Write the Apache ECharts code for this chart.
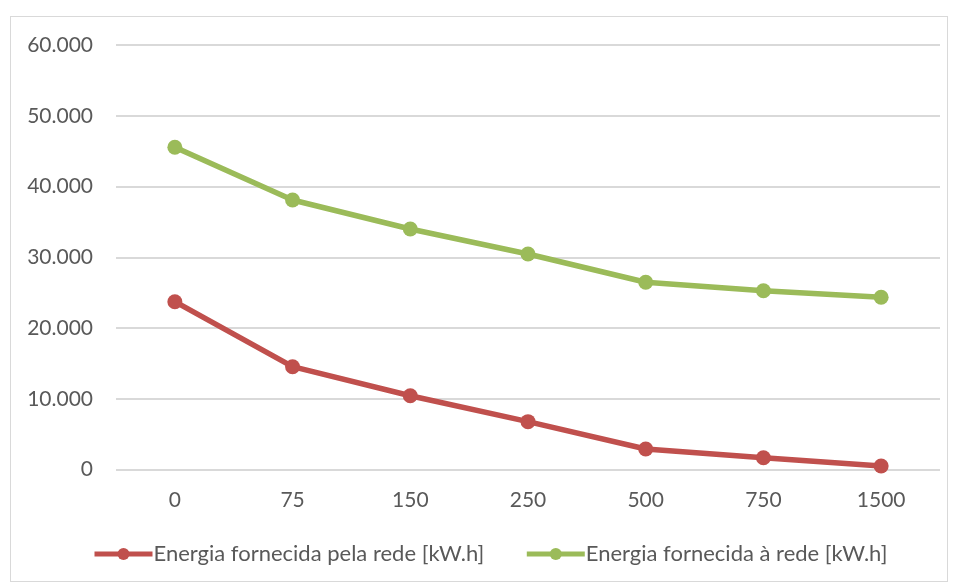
<!DOCTYPE html>
<html>
<head>
<meta charset="utf-8">
<script src="https://cdn.jsdelivr.net/npm/echarts@6/dist/echarts.min.js"></script>
<style>
  html, body { margin: 0; padding: 0; background: #fff; }
  #frame { position: absolute; left: 10px; top: 16px; width: 938px; height: 566px; border: 1px solid #d9d9d9; box-sizing: border-box; }
  #chart { position: absolute; left: 0; top: 0; width: 957px; height: 585px; }
</style>
</head>
<body>
<div id="frame"></div>
<div id="chart"></div>
<script>
// Battery capacity scenarios (x axis)
const categories = ['0', '75', '150', '250', '500', '750', '1500'];
// Energy drawn from the grid [kW.h]
const fromGrid = [23720, 14530, 10430, 6760, 2900, 1670, 500];
// Energy supplied to the grid [kW.h]
const toGrid = [45540, 38090, 33990, 30460, 26460, 25270, 24340];
const seriesNames = ['Energia fornecida pela rede [kW.h]', 'Energia fornecida à rede [kW.h]'];

const FONT = 'Lato';
const TEXT = '#595959';

function fmt(v) {
  return String(v).replace(/\B(?=(\d{3})+(?!\d))/g, '.');
}

const chart = echarts.init(document.getElementById('chart'), null, { renderer: 'canvas' });
chart.setOption({
  animation: false,
  grid: { left: 116, right: 17, top: 45, bottom: 115.5, containLabel: false },
  legend: {
    top: 538,
    left: 87,
    itemWidth: 58,
    itemHeight: 15,
    itemGap: 40,
    lineStyle: { width: 5 },
    textStyle: { fontFamily: FONT, fontSize: 22, color: TEXT, padding: [0, 0, 0, -4] },
    data: seriesNames
  },
  xAxis: {
    type: 'category',
    data: categories,
    boundaryGap: true,
    axisLine: { show: false },
    axisTick: { show: false },
    axisLabel: { fontFamily: FONT, fontSize: 21, color: TEXT, margin: 20 }
  },
  yAxis: {
    type: 'value',
    min: 0,
    max: 60000,
    interval: 10000,
    axisLine: { show: false },
    axisTick: { show: false },
    splitLine: { lineStyle: { color: '#d9d9d9', width: 2 } },
    axisLabel: { fontFamily: FONT, fontSize: 21, color: TEXT, margin: 23, formatter: fmt }
  },
  series: [
    {
      name: seriesNames[0],
      type: 'line',
      data: fromGrid,
      symbol: 'circle',
      symbolSize: 15,
      lineStyle: { color: '#c0504d', width: 5.5 },
      itemStyle: { color: '#c0504d' }
    },
    {
      name: seriesNames[1],
      type: 'line',
      data: toGrid,
      symbol: 'circle',
      symbolSize: 15,
      lineStyle: { color: '#9bbb59', width: 5.5 },
      itemStyle: { color: '#9bbb59' }
    }
  ]
});
</script>
</body>
</html>
